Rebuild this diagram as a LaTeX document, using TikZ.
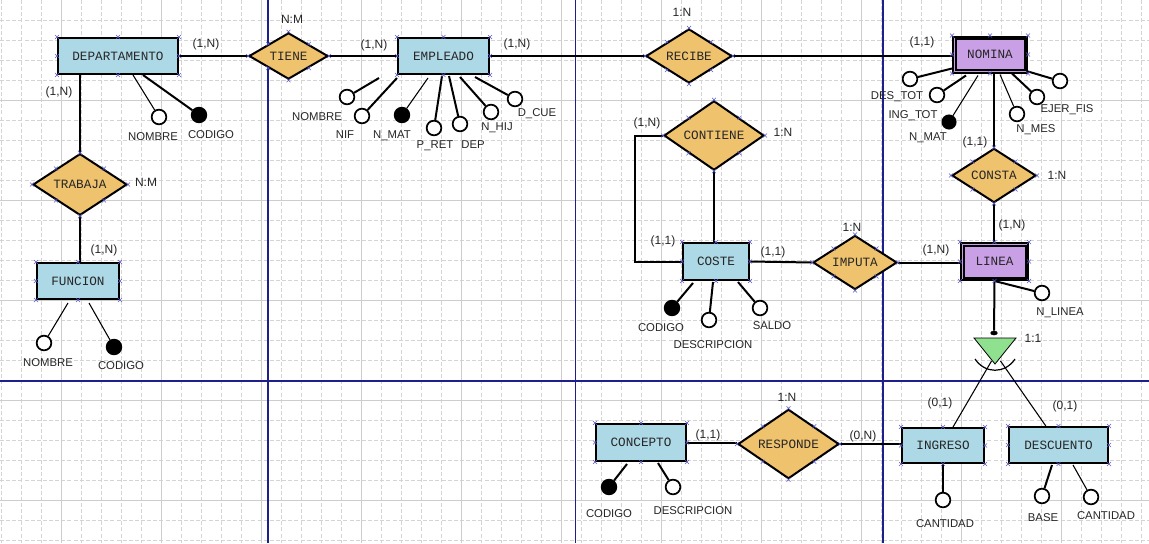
\documentclass[tikz,border=0pt]{standalone}
\usepackage{fontspec}
\setmainfont{Liberation Sans}
\newfontfamily\monof{Liberation Mono}
\usetikzlibrary{shapes.geometric,calc}
\definecolor{entblue}{HTML}{ADD8E6}
\definecolor{relorange}{HTML}{EFC26E}
\definecolor{weakpurple}{HTML}{C9A0E6}
\definecolor{isagreen}{HTML}{8FE08F}
\definecolor{pageblue}{HTML}{1E1E8C}
\definecolor{gridgray}{HTML}{D4D4D4}
\definecolor{gridsolid}{HTML}{CDCDCD}
\definecolor{markblue}{HTML}{5A5AC8}
\newcommand\xmk[1]{\draw[mk] ([shift={(-2,-2)}]#1) -- ++(4,4) ([shift={(-2,2)}]#1) -- ++(4,-4);}
\begin{document}
\begin{tikzpicture}[x=0.75pt,y=-0.75pt,
  entity/.style={draw=black,line width=1.5pt,fill=entblue,rectangle,inner sep=0pt,text=black!85,font=\monof\fontsize{9.5}{11}\selectfont},
  weak/.style={entity,fill=weakpurple},
  rel/.style={draw=black,line width=1.5pt,fill=relorange,diamond,inner sep=0pt,text=black!85,font=\monof\fontsize{9.5}{11}\selectfont},
  attr/.style={circle,draw=black,line width=1.3pt,fill=white,minimum size=11pt,inner sep=0pt},
  keyattr/.style={attr,fill=black},
  lab/.style={inner sep=0pt,text=black!85,font=\fontsize{8.5}{10}\selectfont},
  card/.style={inner sep=0pt,text=black!85,font=\fontsize{9}{10}\selectfont},
  conn/.style={line width=1.5pt},
  thk/.style={line width=1.5pt},
  thn/.style={line width=0.8pt},
  mk/.style={draw=markblue,line width=0.4pt},
  gridd/.style={draw=gridgray,line width=0.6pt,dash pattern=on 3pt off 1.6pt},
  grids/.style={draw=gridsolid,line width=0.6pt},
  page/.style={draw=pageblue,line width=0.8pt}
]
% background and grid
\fill[white] (0,0) rectangle (1149,543);
\useasboundingbox (0,0) rectangle (1149,543);
\foreach \i in {0,...,57} {\draw[gridd] (1.7+20*\i,0) -- (1.7+20*\i,543);}
\foreach \j in {1,...,27} {\draw[gridd] (0,20*\j) -- (1149,20*\j);}
\foreach \i in {0,...,10} {\draw[grids] (61.7+100*\i,0) -- (61.7+100*\i,543);}
\foreach \j in {1,...,5} {\draw[grids] (0,100*\j) -- (1149,100*\j);}
\draw[page] (268,0) -- (268,543);
\draw[page] (575.5,0) -- (575.5,543);
\draw[page] (883,0) -- (883,543);
\draw[page] (0,381) -- (1149,381);

% entities
\node[entity,minimum width=90pt,minimum height=27pt] (dep) at (118,56) {DEPARTAMENTO};
\node[entity,minimum width=68.25pt,minimum height=27pt] (emp) at (443.5,56) {EMPLEADO};
\node[weak,minimum width=55.5pt,minimum height=27pt] (nom) at (990,54.5) {NOMINA};
\draw[line width=1.5pt] ([shift={(3.5,3.5)}]nom.north west) rectangle ([shift={(-3.5,-3.5)}]nom.south east);
\node[entity,minimum width=61.5pt,minimum height=27pt] (fun) at (78,281) {FUNCION};
\node[entity,minimum width=49.5pt,minimum height=27.75pt] (cos) at (716,261.5) {COSTE};
\node[weak,minimum width=50.25pt,minimum height=27.75pt] (lin) at (994.5,261.5) {LINEA};
\draw[line width=1.5pt] ([shift={(3.5,3.5)}]lin.north west) rectangle ([shift={(-3.5,-3.5)}]lin.south east);
\node[entity,minimum width=61.5pt,minimum height=26.25pt] (ing) at (943,445.5) {INGRESO};
\node[entity,minimum width=74.25pt,minimum height=27pt] (des) at (1058.5,445) {DESCUENTO};
\node[entity,minimum width=67.5pt,minimum height=27.75pt] (con) at (641,442.5) {CONCEPTO};

% relationships
\node[rel,minimum width=59.25pt,minimum height=34.5pt] (tie) at (288.5,56) {TIENE};
\node[rel,minimum width=64.5pt,minimum height=39pt] (rec) at (689,56) {RECIBE};
\node[rel,minimum width=70.5pt,minimum height=42.75pt] (tra) at (80,184.5) {TRABAJA};
\node[rel,minimum width=75pt,minimum height=45.75pt] (cont) at (714,135.5) {CONTIENE};
\node[rel,minimum width=63pt,minimum height=38.25pt] (imp) at (855,262.5) {IMPUTA};
\node[rel,minimum width=63pt,minimum height=38.25pt] (cons) at (994,175.5) {CONSTA};
\node[rel,minimum width=75.75pt,minimum height=47.25pt] (resp) at (788.5,444) {RESPONDE};

% connectors
\draw[conn] (dep.east) -- (tie.west);
\draw[conn] (tie.east) -- (emp.west);
\draw[conn] (emp.east) -- (rec.west);
\draw[conn] (rec.east) -- (rec.east -| nom.west);
\draw[conn] (tra.north) -- (tra.north |- dep.south);
\draw[conn] (tra.south) -- (tra.south |- fun.north);
\draw[conn] (cont.west) -- ++(-28,0) |- (cos.west);
\draw[conn] (cont.south) -- (cont.south |- cos.north);
\draw[conn] (cos.east) -- (imp.west);
\draw[conn] (imp.east) -- (imp.east -| lin.west);
\draw[conn] (cons.north) -- (cons.north |- nom.south);
\draw[conn] (cons.south) -- (cons.south |- lin.north);
\draw[conn] (con.east) -- (con.east -| resp.west);
\draw[conn] (resp.east) -- (resp.east -| ing.west);

% ISA triangle
\node[ellipse,fill=black,draw=black,minimum width=5pt,minimum height=3pt,inner sep=0pt] (knob) at (994,333) {};
\draw[conn] (lin.south) -- (knob);
\draw[thn] ([xshift=7.5pt]ing.north) -- (991.5,361);
\draw[thn] ([xshift=-9.5pt]des.north) -- (1000.5,361);
\draw[fill=isagreen,draw=black,line width=0.6pt] (974,338) -- (1016,338) -- (995,364) -- cycle;
\draw[line width=0.9pt] (975,359) .. controls (985,374) and (1005,374) .. (1015,359);

% attributes: DEPARTAMENTO
\node[attr] (depa1) at (159,117) {};
\node[keyattr] (depa2) at (199,115) {};
\draw[thn] ([shift={(15,0)}]dep.south) -- (depa1);
\draw[thk] ([shift={(25,0)}]dep.south) -- (depa2);
\node[lab] (depl1) at (153,137) {NOMBRE};
\node[lab] (depl2) at (211,135) {CODIGO};

% attributes: EMPLEADO
\node[attr] (empa1) at (347,97) {};
\node[attr] (empa2) at (362,116) {};
\node[keyattr] (empa3) at (402,115) {};
\node[attr] (empa4) at (434,128) {};
\node[attr] (empa5) at (460,124) {};
\node[attr] (empa6) at (491,112) {};
\node[attr] (empa7) at (515,99) {};
\draw[thk] ([shift={(-64.5,3)}]emp.south) -- (empa1);
\draw[thk] ([shift={(-46.5,3)}]emp.south) -- (empa2);
\draw[thn] ([shift={(-15.5,3)}]emp.south) -- (empa3);
\draw[thk] ([shift={(-1.5,1)}]emp.south) -- (empa4);
\draw[thk] ([shift={(5.5,1)}]emp.south) -- (empa5);
\draw[thk] ([shift={(16.5,2)}]emp.south) -- (empa6);
\draw[thk] ([shift={(31.5,2)}]emp.south) -- (empa7);
\node[lab] (empl1) at (317,117) {NOMBRE};
\node[lab] (empl2) at (345,135) {NIF};
\node[lab] (empl3) at (392,136) {N\_MAT};
\node[lab] (empl4) at (435,146) {P\_RET};
\node[lab] (empl5) at (473,145) {DEP};
\node[lab] (empl6) at (497,128) {N\_HIJ};
\node[lab] (empl7) at (537,114) {D\_CUE};

% attributes: FUNCION
\node[attr] (funa1) at (44,343) {};
\node[keyattr] (funa2) at (114,347) {};
\draw[thn] ([shift={(-10,3)}]fun.south) -- (funa1);
\draw[thn] ([shift={(11,3)}]fun.south) -- (funa2);
\node[lab] (funl1) at (48,363) {NOMBRE};
\node[lab] (funl2) at (121,366) {CODIGO};

% attributes: NOMINA
\node[attr] (noma1) at (910,79) {};
\node[attr] (noma2) at (937,95) {};
\node[keyattr,minimum size=10pt] (noma3) at (949,122) {};
\node[attr] (noma4) at (1017,114) {};
\node[attr] (noma5) at (1037,97) {};
\node[attr] (noma6) at (1060,81) {};
\draw[thk] ([shift={(0,-5)}]nom.south west) -- (noma1);
\draw[thk] ([shift={(-24,2)}]nom.south) -- (noma2);
\draw[thn] ([shift={(-12,2)}]nom.south) -- (noma3);
\draw[thn] ([shift={(10,1)}]nom.south) -- (noma4);
\draw[thk] ([shift={(22,0)}]nom.south) -- (noma5);
\draw[thk] ([shift={(0,-2)}]nom.south east) -- (noma6);
\node[lab] (noml1) at (897,97) {DES\_TOT};
\node[lab] (noml2) at (913,116) {ING\_TOT};
\node[lab] (noml3) at (928,138) {N\_MAT};
\node[lab] (noml4) at (1036,130) {N\_MES};
\node[lab] (noml5) at (1067,110) {EJER\_FIS};

% attributes: COSTE
\node[keyattr] (cosa1) at (672,308) {};
\node[attr] (cosa2) at (709,320) {};
\node[attr] (cosa3) at (760,308) {};
\draw[thk] ([shift={(-23,2)}]cos.south) -- (cosa1);
\draw[thk] ([shift={(-3,1)}]cos.south) -- (cosa2);
\draw[thk] ([shift={(22,1)}]cos.south) -- (cosa3);
\node[lab] (cosl1) at (661,328) {CODIGO};
\node[lab] (cosl2) at (713,345) {DESCRIPCION};
\node[lab] (cosl3) at (772,326) {SALDO};

% attributes: LINEA
\node[attr] (lina1) at (1042,293) {};
\draw[thk] (lin.south) -- (lina1);
\node[lab] (linl1) at (1060,313) {N\_LINEA};

% attributes: INGRESO
\node[attr] (inga1) at (943,500) {};
\draw[thk] (ing.south) -- (inga1);
\node[lab] (ingl1) at (945,524) {CANTIDAD};

% attributes: DESCUENTO
\node[attr] (desa1) at (1042,496) {};
\node[attr] (desa2) at (1091,497) {};
\draw[thk] ([shift={(-6.5,1)}]des.south) -- (desa1);
\draw[thn] ([shift={(14.5,1)}]des.south) -- (desa2);
\node[lab] (desl1) at (1043,518) {BASE};
\node[lab] (desl2) at (1106,516) {CANTIDAD};

% attributes: CONCEPTO
\node[keyattr] (cona1) at (609,487) {};
\node[attr] (cona2) at (673,487) {};
\draw[thk] ([shift={(-14,2)}]con.south) -- (cona1);
\draw[thk] ([shift={(17,1)}]con.south) -- (cona2);
\node[lab] (conl1) at (609,514) {CODIGO};
\node[lab] (conl2) at (693,511) {DESCRIPCION};

% cardinality labels
\node[card] (c1) at (206,44) {(1,N)};
\node[card] (c2) at (292,19) {N:M};
\node[card] (c3) at (374,45) {(1,N)};
\node[card] (c4) at (517,44) {(1,N)};
\node[card] (c5) at (682,12) {1:N};
\node[card] (c6) at (922,42) {(1,1)};
\node[card] (c7) at (59,92) {(1,N)};
\node[card] (c8) at (146,182) {N:M};
\node[card] (c9) at (104,250) {(1,N)};
\node[card] (c10) at (647,123) {(1,N)};
\node[card] (c11) at (783,132) {1:N};
\node[card] (c12) at (663,241) {(1,1)};
\node[card] (c13) at (773,252) {(1,1)};
\node[card] (c14) at (852,227) {1:N};
\node[card] (c15) at (936,250) {(1,N)};
\node[card] (c16) at (1012,225) {(1,N)};
\node[card] (c17) at (975,142) {(1,1)};
\node[card] (c18) at (1057,175) {1:N};
\node[card] (c19) at (1033,338) {1:1};
\node[card] (c20) at (940,403) {(0,1)};
\node[card] (c21) at (1065,406) {(0,1)};
\node[card] (c22) at (708,435) {(1,1)};
\node[card] (c23) at (787,397) {1:N};
\node[card] (c24) at (863,436) {(0,N)};

% selection markers
\foreach \nn in {dep,emp,nom,fun,cos,lin,ing,des,con,tie,rec,tra,cont,imp,cons,resp} {
  \foreach \aa in {north west,north,north east,east,south east,south,south west,west} {
    \xmk{\nn.\aa}
  }
}
\end{tikzpicture}
\end{document}
